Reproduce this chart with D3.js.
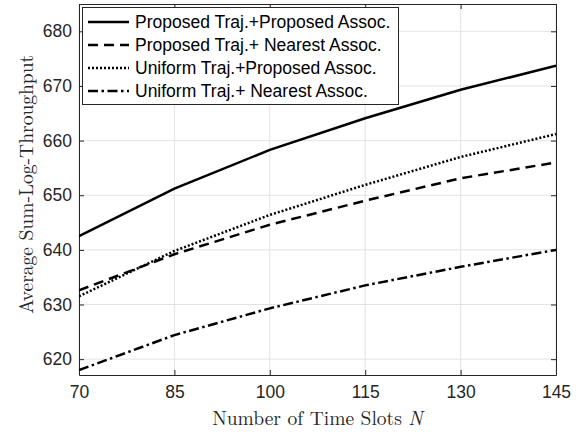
<!DOCTYPE html>
<html><head><meta charset="utf-8">
<script src="https://cdn.jsdelivr.net/npm/d3@7"></script>
<style>body{margin:0;background:#fff;} svg{display:block;}</style>
</head><body>
<script>
const xValues = [70, 85, 100, 115, 130, 145];
const seriesNames = ["Proposed Traj.+Proposed Assoc.", "Proposed Traj.+ Nearest Assoc.", "Uniform Traj.+Proposed Assoc.", "Uniform Traj.+ Nearest Assoc."];
const solidVals = [642.5, 651.2, 658.3, 664.1, 669.3, 673.7];
const dashedVals = [632.6, 639.2, 644.6, 649.0, 653.1, 656.0];
const dottedVals = [631.5, 639.8, 646.4, 651.9, 657.0, 661.2];
const dashDotVals = [618.0, 624.4, 629.3, 633.5, 636.9, 640.0];
const xTicks = [70, 85, 100, 115, 130, 145];
const yTicks = [620, 630, 640, 650, 660, 670, 680];

const W = 579, H = 432;
const m = {left: 79, right: 23, top: 4, bottom: 57};
const svg = d3.select("body").append("svg").attr("width", W).attr("height", H);
const x = d3.scaleLinear().domain([70, 145]).range([m.left, W - m.right]);
const y = d3.scaleLinear().domain([617.1, 685]).range([H - m.bottom, m.top]);

// grid
const g = svg.append("g");
g.selectAll(".vg").data(xTicks).join("line")
  .attr("x1", d => x(d)).attr("x2", d => x(d)).attr("y1", y.range()[0]).attr("y2", y.range()[1])
  .attr("stroke", "#e3e3e3").attr("stroke-width", 1);
g.selectAll(".hg").data(yTicks).join("line")
  .attr("y1", d => y(d)).attr("y2", d => y(d)).attr("x1", x.range()[0]).attr("x2", x.range()[1])
  .attr("stroke", "#e3e3e3").attr("stroke-width", 1);

// axes
const font = "'Liberation Sans', Arial, sans-serif";
const fs = "17.5px";
const xAxis = d3.axisBottom(x).tickValues(xTicks).tickSizeInner(-5).tickSizeOuter(0).tickPadding(11);
const yAxis = d3.axisLeft(y).tickValues(yTicks).tickSizeInner(-5).tickSizeOuter(0).tickPadding(7);
const xa = svg.append("g").attr("transform", `translate(0,${H - m.bottom})`).call(xAxis);
const ya = svg.append("g").attr("transform", `translate(${m.left},0)`).call(yAxis);
const xt = svg.append("g").attr("transform", `translate(0,${m.top})`).call(d3.axisTop(x).tickValues(xTicks).tickSizeInner(-5).tickSizeOuter(0).tickFormat(""));
const yr = svg.append("g").attr("transform", `translate(${W - m.right},0)`).call(d3.axisRight(y).tickValues(yTicks).tickSizeInner(-5).tickSizeOuter(0).tickFormat(""));
[xa, ya, xt, yr].forEach(a => {
  a.select(".domain").attr("stroke", "#262626").attr("stroke-width", 1);
  a.selectAll(".tick line").attr("stroke", "#262626");
  a.selectAll(".tick text").attr("fill", "#262626").style("font-family", font).style("font-size", fs);
});

// lines
const line = d3.line().x((d, i) => x(xValues[i])).y(d => y(d));
const series = [
  {vals: solidVals, dash: null},
  {vals: dashedVals, dash: "10,6"},
  {vals: dottedVals, dash: "2,2"},
  {vals: dashDotVals, dash: "10,3.5,2.5,3.5"}
];
svg.append("clipPath").attr("id", "c").append("rect")
  .attr("x", m.left).attr("y", m.top).attr("width", W - m.left - m.right).attr("height", H - m.top - m.bottom);
svg.append("g").attr("clip-path", "url(#c)").selectAll("path").data(series).join("path")
  .attr("d", d => line(d.vals)).attr("fill", "none").attr("stroke", "#000").attr("stroke-width", 2.5)
  .attr("stroke-dasharray", d => d.dash);

// legend
const lg = svg.append("g");
lg.append("rect").attr("x", 82.5).attr("y", 7.5).attr("width", 316).attr("height", 97)
  .attr("fill", "#fff").attr("stroke", "#262626").attr("stroke-width", 1);
seriesNames.forEach((name, i) => {
  const yy = 22 + i * 23;
  lg.append("line").attr("x1", 88).attr("x2", 129).attr("y1", yy).attr("y2", yy)
    .attr("stroke", "#000").attr("stroke-width", 2.5).attr("stroke-dasharray", series[i].dash);
  lg.append("text").attr("x", 135).attr("y", yy).attr("dy", "0.35em").text(name)
    .style("font-family", font).style("font-size", fs).attr("fill", "#000");
});

// axis labels
const serif = "'Latin Modern Roman', 'CMU Serif', 'Liberation Serif', 'DejaVu Serif', serif";
const xl = svg.append("text").attr("x", x(107.5)).attr("y", 425).attr("text-anchor", "middle")
  .style("font-family", serif).style("font-size", "19.5px").attr("fill", "#262626");
xl.append("tspan").text("Number of Time Slots ");
xl.append("tspan").style("font-style", "italic").text("N");
svg.append("text").attr("transform", `translate(33,${y(652)}) rotate(-90)`).attr("text-anchor", "middle")
  .style("font-family", serif).style("font-size", "19.5px").attr("fill", "#262626")
  .text("Average Sum-Log-Throughput");
</script>
</body></html>
